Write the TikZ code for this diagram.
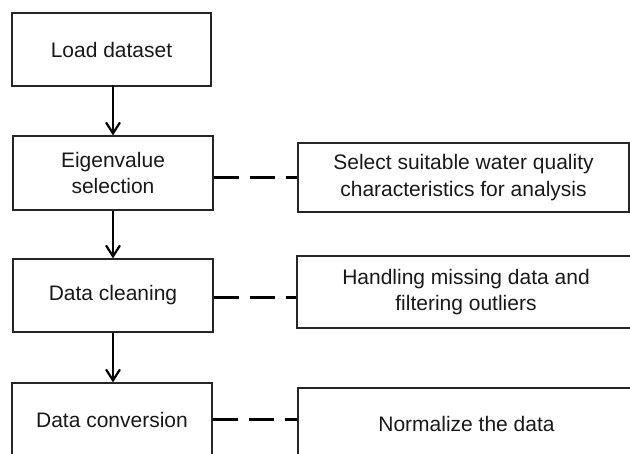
\documentclass[tikz,border=0pt]{standalone}
\usepackage{fontspec}
\setmainfont{Liberation Sans}
\usetikzlibrary{arrows.meta}
\begin{document}
\begin{tikzpicture}[x=1pt,y=-1pt,
  box/.style={draw=black!85, line width=1.2pt, align=center, inner sep=0pt,
    text=black!90, font=\fontsize{21}{26.5}\selectfont},
  flow/.style={line width=2.4pt, -{Straight Barb[length=11pt,width=14pt,line width=2.2pt]}},
  link/.style={line width=3pt, dash pattern=on 25pt off 11pt}]
  \clip (0,0) rectangle (630,454);
  \fill[white] (0,0) rectangle (630,454);

  % processing steps
  \node[box, minimum width=199pt, minimum height=73pt] (load) at (111.5,49.5) {Load dataset};
  \node[box, minimum width=200pt, minimum height=74pt] (eig) at (113,173) {Eigenvalue\\selection};
  \node[box, minimum width=200pt, minimum height=73pt] (clean) at (113,295.5) {Data cleaning};
  \node[box, minimum width=200pt, minimum height=74pt] (conv) at (112,420) {Data conversion};

  % descriptions
  \node[box, minimum width=331pt, minimum height=69pt] (d1) at (463.5,177.5) {Select suitable water quality\\characteristics for analysis};
  \node[box, minimum width=338pt, minimum height=72pt] (d2) at (466,292) {Handling missing data and\\filtering outliers};
  \node[box, minimum width=337pt, minimum height=72pt] (d3) at (466.5,424) {Normalize the data};

  % flow arrows
  \draw[flow] ([yshift=2pt]load.south -| eig.north) -- (eig.north);
  \draw[flow] (eig.south) -- (eig.south |- clean.north);
  \draw[flow] (clean.south) -- (clean.south |- conv.north);

  % dashed links
  \coordinate (y1) at (0,178);
  \coordinate (y2) at (0,298);
  \coordinate (y3) at (0,420);
  \draw[link] (eig.east |- y1) -- (d1.west |- y1);
  \draw[link] (clean.east |- y2) -- (d2.west |- y2);
  \draw[link] (conv.east |- y3) -- (d3.west |- y3);
\end{tikzpicture}
\end{document}
